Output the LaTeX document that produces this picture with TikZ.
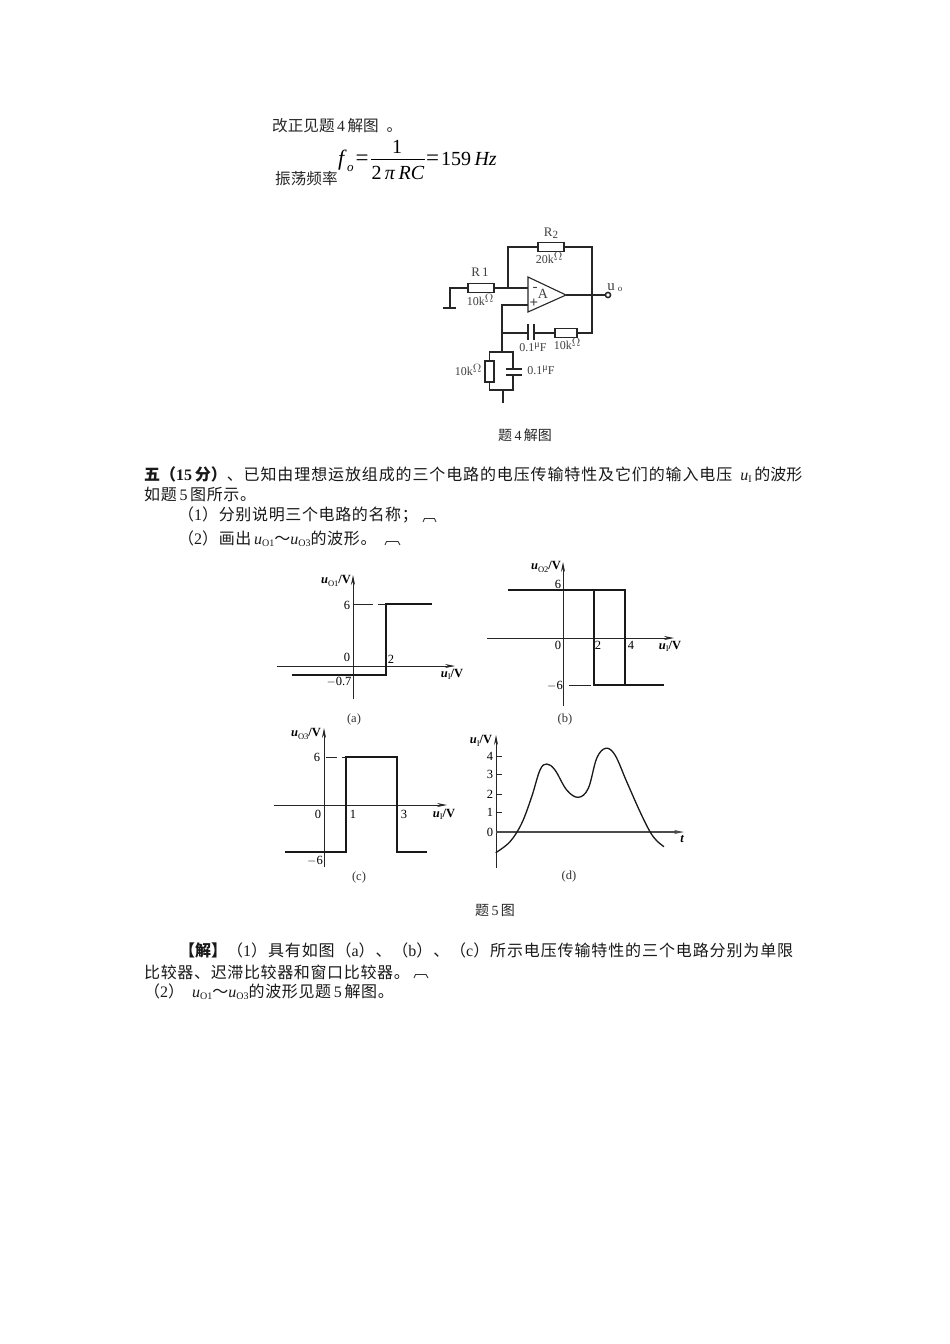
\documentclass[tikz,border=0pt]{standalone}
\usepackage{fontspec}
\setmainfont{Liberation Serif}
\newfontfamily\cjk{Noto Sans CJK SC}
\newfontfamily\cjkm[LetterSpace=4]{Noto Sans CJK SC}
\newfontfamily\cjkw[LetterSpace=5.5]{Noto Sans CJK SC}
\usetikzlibrary{arrows.meta}
\newcommand\fs[1]{\fontsize{#1}{#1}\selectfont}
\newcommand\usub[1]{\textit{u}\raisebox{-0.15em}{\fs{10}#1}}
\newcommand\lbl[1]{\textbf{\textit{u}}\raisebox{-0.2em}{\fs{8.5}#1}\textbf{/V}}
\newcommand\ohm{k\raisebox{0.3em}{$\Omega$}}
\newcommand\uF{\raisebox{0.3em}{\fs{10}μ}F}
\tikzset{
  body/.style={anchor=base west,inner sep=0,font=\fs{16},text=black!90},
  bodys/.style={anchor=base west,inner sep=0,font=\fs{15.6},text=black!85},
  figcap/.style={anchor=center,inner sep=0,font=\fs{14},text=black!85},
  eq/.style={anchor=base west,inner sep=0,font=\fs{20}},
  clab/.style={anchor=center,inner sep=0,font=\fs{12},text=black!75},
  glab/.style={anchor=center,inner sep=0,font=\fs{12.5}},
  gcap/.style={anchor=center,inner sep=0,font=\fs{12.5},text=black!80},
  wire/.style={line width=1.1pt,draw=black!85},
  res/.style={draw=black!85,line width=1.1pt,fill=white,minimum width=26pt,minimum height=8.5pt,inner sep=0},
  vres/.style={draw=black!85,line width=1.1pt,fill=white,minimum width=9pt,minimum height=21pt,inner sep=0},
  axis/.style={line width=0.8pt,draw=black!85,-{Stealth[length=10pt,width=4pt]}},
  axisp/.style={line width=0.8pt,draw=black!85},
  trace/.style={line width=1.4pt,draw=black!90},
  mk/.style={line width=0.9pt,draw=black!80}
}
\begin{document}
\begin{tikzpicture}[x=1pt,y=-1pt]
\useasboundingbox[fill=white] (0,0) rectangle (950,1344);

% top text and formula
\node[bodys] (t1) at (272,131) {{\cjk 改正见题}\,4\,{\cjk 解图}\ \ {\cjk 。}};
\node[bodys] (t2) at (275,184) {\cjk 振荡频率};
\node[eq,font=\fs{22}] (ff) at (338,165) {\textit{f}};
\node[anchor=base west,inner sep=0,font=\fs{13}] (fo) at (347,171) {\textit{o}};
\node[eq,font=\fs{23}] (fe) at (355.5,165) {=};
\coordinate (fl) at (371,159);
\coordinate (fr) at (425,159);
\draw[line width=0.8pt] (fl) -- (fr);
\node[eq,anchor=base] (fn) at (397,153) {1};
\node[eq,anchor=base] (fd) at (398,179) {2\,\textit{π}\,\textit{RC}};
\node[eq,font=\fs{23}] (fe2) at (426,165) {=};
\node[eq] (fv) at (441,165) {159\,\textit{Hz}};

% circuit
\node[res] (R2) at (551,247) {};
\node[res] (R1) at (481,288) {};
\node[res,minimum width=22pt] (R3) at (566,333) {};
\node[vres] (R4) at (489.5,371.5) {};
\draw[wire] (528,277) coordinate (oa) -- (566,295) coordinate (oc) -- (528,312) coordinate (ob) -- cycle;
\coordinate (gnd) at (450,308);
\coordinate (n1) at (508,288);
\coordinate (n2) at (592,295);
\coordinate (in-) at (528,288);
\coordinate (in+) at (528,305);
\coordinate (n3) at (502,333);
\coordinate (n4) at (502,352);
\coordinate (cl) at (528,333);
\coordinate (cr) at (534,333);
\coordinate (c2t) at (513,369);
\coordinate (c2b) at (513,375);
\coordinate (bl) at (489.5,390);
\coordinate (br) at (513,390);
\coordinate (stem) at (503,390);
\coordinate (send) at (503,403);
\coordinate (out) at (608,295);
\draw[wire] (443,308) -- (456,308);
\draw[wire] (gnd) |- (R1.west);
\draw[wire] (R1.east) -- (in-);
\draw[wire] (n1) |- (R2.west);
\draw[wire] (R2.east) -| (592,333) -- (R3.east);
\draw[wire] (R3.west) -- (cr);
\draw[wire] (528,324) -- (528,340);
\draw[wire] (534,324) -- (534,340);
\draw[wire] (cl) -- (n3);
\draw[wire] (in+) -| (n4);
\draw[wire] (R4.north) |- (n4) -| (c2t);
\draw[wire] (506,369) -- (522,369);
\draw[wire] (506,375) -- (522,375);
\draw[wire] (c2b) -- (br) -- (bl) -- (R4.south);
\draw[wire] (stem) -- (send);
\draw[wire] (oc) -- (out);
\draw[line width=1.5pt,draw=black!85,fill=white] (out) circle (2.6pt);
\node[clab,font=\fs{13}] (lr2) at (551,233) {R\raisebox{-0.15em}{\fs{11}2}};
\node[clab] (lr2v) at (549,258) {20\ohm};
\node[clab,font=\fs{13}] (lr1) at (480,272) {R\,1};
\node[clab] (lr1v) at (480,300) {10\ohm};
\node[clab] (lc1) at (533,347) {0.1\uF};
\node[clab] (lr3) at (567,344) {10\ohm};
\node[clab] (lr4) at (468,370) {10\ohm};
\node[clab] (lc2) at (541,370) {0.1\uF};
\node[clab,font=\fs{15}] (lminus) at (535,289) {-};
\node[clab,font=\fs{14}] (lA) at (543,294) {A};
\node[clab,font=\bfseries\fs{15}] (lplus) at (534,303) {+};
\node[clab,font=\fs{15}] (lu) at (611,287) {u};
\node[clab,font=\fs{9}] (lo) at (620,289) {o};
\node[figcap] (c4) at (525,435) {{\cjk 题}\,4\,{\cjk 解图}};

% question text
\node[body] (q1) at (144,480) {{\cjk\bfseries 五（}\textbf{15}\,{\cjk\bfseries 分）}{\cjkw 、已知由理想运放组成的三个电路的电压传输特性及它们的输入电压}\ \ \usub{I}\,{\cjk 的波形}};
\node[body] (q2) at (144,500) {{\cjkm 如题}\,5\,{\cjkm 图所示。}};
\node[body] (q3) at (178,520) {{\cjkm （}1{\cjkm ）分别说明三个电路的名称；}};
\node[body] (q4) at (178,544) {{\cjkm （}2{\cjkm ）画出}\,\usub{O1}{\cjk ～}\usub{O3}{\cjkm 的波形。}};
\draw[mk] (423,522) -- (424.5,518.5) -- (434.5,518.5) -- (436,522);
\draw[mk] (385,545) -- (386.5,541.5) -- (398,541.5) -- (400,545);

% graph a
\coordinate (ay0) at (353,699); \coordinate (ay1) at (353,575);
\coordinate (ax0) at (277,666); \coordinate (ax1) at (455,666);
\draw[axis] (ay0) -- (ay1);
\draw[axis] (ax0) -- (ax1);
\draw[trace] (292,675) -- (386,675) -- (386,604) -- (432,604);
\draw[axisp] (353,604) -- (373,604) (378,604) -- (386,604);
\node[glab] (a1) at (336,581) {\lbl{O1}};
\node[glab] (a2) at (347,605) {6};
\node[glab] (a3) at (347,657) {0};
\node[glab] (a4) at (391,659) {2};
\node[glab] (a5) at (339,682) {$-$0.7};
\node[glab] (a6) at (452,674.5) {\lbl{I}};
\node[gcap] (a7) at (354,719) {(a)};

% graph b
\coordinate (by0) at (563,706); \coordinate (by1) at (563,562);
\coordinate (bx0) at (487,638); \coordinate (bx1) at (674,638);
\draw[axis] (by0) -- (by1);
\draw[axis] (bx0) -- (bx1);
\draw[trace] (508,590) -- (625,590) -- (625,685);
\draw[trace] (594,590) -- (594,685) -- (664,685);
\draw[axisp] (569,685) -- (591,685);
\node[glab] (b1) at (546,567) {\lbl{O2}};
\node[glab] (b2) at (558,584) {6};
\node[glab] (b3) at (558,645) {0};
\node[glab] (b4) at (598,645) {2};
\node[glab] (b5) at (631,645) {4};
\node[glab] (b6) at (670,646.5) {\lbl{I}};
\node[glab] (b7) at (555,686) {$-$6};
\node[gcap] (b8) at (565,719) {(b)};

% graph c
\coordinate (cy0) at (324,867); \coordinate (cy1) at (324,728);
\coordinate (cx0) at (274,805); \coordinate (cx1) at (447,805);
\draw[axis] (cy0) -- (cy1);
\draw[axis] (cx0) -- (cx1);
\draw[trace] (285,852) -- (346,852) -- (346,757) -- (397,757) -- (397,852) -- (427,852);
\draw[axisp] (326,757) -- (337,757) (342,757) -- (346,757);
\node[glab] (c1) at (306,734) {\lbl{O3}};
\node[glab] (c2) at (317,757) {6};
\node[glab] (c3) at (318,814) {0};
\node[glab] (c5) at (353,814) {1};
\node[glab] (c6) at (404,814) {3};
\node[glab] (c7) at (444,814.5) {\lbl{I}};
\node[glab] (c8) at (315,861) {$-$6};
\node[gcap] (c9) at (359,877) {(c)};

% graph d
\coordinate (dy0) at (496,868); \coordinate (dy1) at (496,735);
\coordinate (dx0) at (496,832); \coordinate (dx1) at (684,832);
\draw[axis] (dy0) -- (dy1);
\draw[axis,line width=1.2pt,draw=black!70] (dx0) -- (dx1);
\draw[axisp] (496,756) -- (502,756) (496,774) -- (502,774) (496,794) -- (502,794) (496,812) -- (502,812);
\draw[trace,line width=1.3pt] plot[smooth,tension=0.6] coordinates {(495.7,852.7) (510,841.7) (521.7,823.3) (531.7,796.7) (540,770) (546.7,764) (555,770) (566.7,790) (578.3,797.3) (588.3,788.3) (596.7,758.3) (605.7,748.3) (615,755) (626.7,781.7) (640,811.7) (650,831.7) (656.7,840.7) (664,846.7)};
\node[glab] (d1) at (481,741) {\lbl{I}};
\node[glab] (d2) at (490,756) {4};
\node[glab] (d3) at (490,774) {3};
\node[glab] (d4) at (490,794) {2};
\node[glab] (d5) at (490,812) {1};
\node[glab] (d6) at (490,832) {0};
\node[glab,font=\bfseries\itshape\fs{12.5}] (d7) at (682,839) {t};
\node[gcap] (d8) at (569,876) {(d)};
\node[figcap] (c5f) at (495,910) {{\cjk 题}\,5\,{\cjk 图}};

% answer
\node[body] (s1) at (179,956) {{\cjk\bfseries 【解】}{\cjkw （}1{\cjkw ）具有如图（}a{\cjkw ）、（}b{\cjkw ）、（}c{\cjkw ）所示电压传输特性的三个电路分别为单限}};
\node[body] (s2) at (144,978) {\cjkm 比较器、迟滞比较器和窗口比较器。};
\draw[mk] (414,978) -- (415.5,974.5) -- (426,974.5) -- (428,978);
\node[body] (s3) at (144,997) {{\cjkm （}2{\cjkm ）}\ \ \usub{O1}{\cjk ～}\usub{O3}{\cjkm 的波形见题}\,5\,{\cjkm 解图。}};
\end{tikzpicture}
\end{document}
